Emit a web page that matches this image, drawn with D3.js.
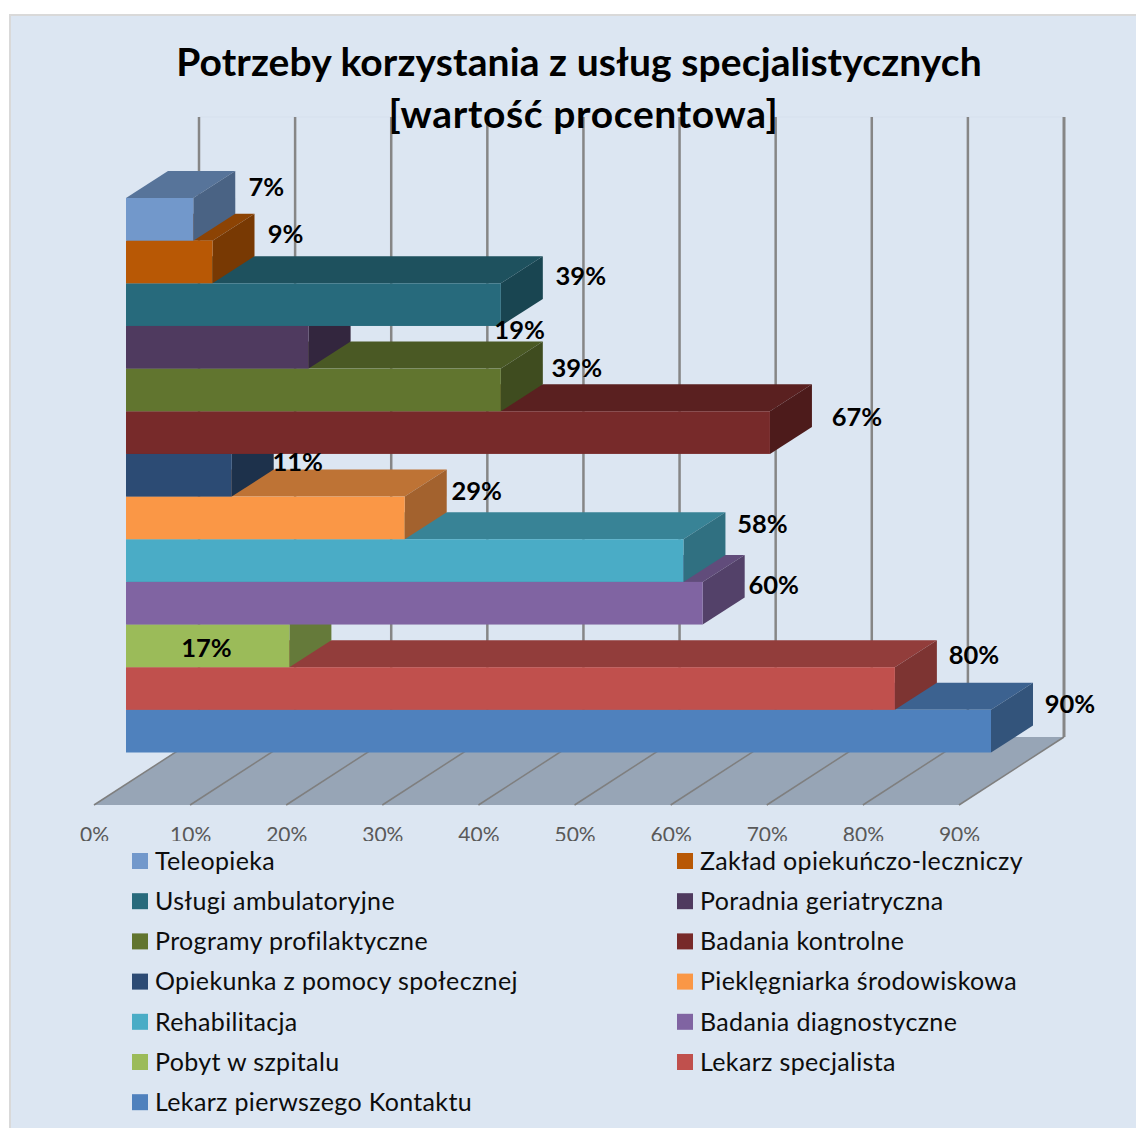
<!DOCTYPE html>
<html>
<head>
<meta charset="utf-8">
<script src="https://cdn.jsdelivr.net/npm/d3@7"></script>
<style>
html, body { margin: 0; padding: 0; background: #fff; overflow: hidden; }
svg { display: block; font-family: Lato, "Open Sans", sans-serif; }
</style>
</head>
<body>
<script>
// Data, top bar first
var categories = ['Teleopieka', 'Zakład opiekuńczo-leczniczy', 'Usługi ambulatoryjne', 'Poradnia geriatryczna',
    'Programy profilaktyczne', 'Badania kontrolne', 'Opiekunka z pomocy społecznej', 'Pieklęgniarka środowiskowa',
    'Rehabilitacja', 'Badania diagnostyczne', 'Pobyt w szpitalu', 'Lekarz specjalista', 'Lekarz pierwszego Kontaktu'];
var values = [7, 9, 39, 19, 39, 67, 11, 29, 58, 60, 17, 80, 90];
var colors = ['#7298cb', '#b85805', '#276a7c', '#4f3a5f', '#61752f', '#772a2a', '#2c4b74',
    '#fa9746', '#4aacc6', '#8064a2', '#9bbb59', '#c0504d', '#4f81bd'];
var tickValues = [0, 10, 20, 30, 40, 50, 60, 70, 80, 90];
var titleLines = ['Potrzeby korzystania z usług specjalistycznych', '[wartość procentowa]'];

// Label nudges, the original chart has them hand placed
var labelDx = [73, 73, 80, 211, 76, 87, 66, 72, 79, 71, -83, 79, 79];
var labelDy = [-32, -28, -29, -17, -22, -16, -13, -27, -36, -18, 2, -33, -27];

var width = 1136;
var height = 1128;

// 3D offsets
var barDepthX = 42;
var barDepthY = -27;
var wallTop = 117;
var floorFront = 805;
var floorBack = 737;

// One x scale per depth plane
var xFloor = d3.scaleLinear().domain([0, 90]).range([94, 959]);
var xWall = d3.scaleLinear().domain([0, 90]).range([199, 1064]);
var xBar = d3.scaleLinear().domain([0, 90]).range([126, 991]);

var yBar = d3.scaleBand()
    .domain(categories)
    .range([198, 752.5]);

var svg = d3.select('body')
    .append('svg')
    .attr('width', width)
    .attr('height', height);

function shade(color, k) {
    var c = d3.rgb(color);
    return d3.rgb(c.r * k, c.g * k, c.b * k).formatHex();
}

function poly(points) {
    return points.map((p) => p.join(',')).join(' ');
}

// Background panel
svg.append('rect')
    .attr('x', 10)
    .attr('y', 15)
    .attr('width', width)
    .attr('height', height)
    .attr('fill', '#dce6f2')
    .attr('stroke', '#d9d9d9')
    .attr('stroke-width', 2);

// Clip for the tick labels, the legend cuts them off in the original
svg.append('clipPath')
    .attr('id', 'tickClip')
    .append('rect')
    .attr('x', 0)
    .attr('y', 800)
    .attr('width', width)
    .attr('height', 41);

// Back wall
svg.append('line')
    .attr('x1', xWall(0))
    .attr('x2', xWall(90))
    .attr('y1', wallTop)
    .attr('y2', wallTop)
    .attr('stroke', '#d6e0ed');

svg.selectAll('.wallLine')
    .data(tickValues)
    .enter()
    .append('line')
    .attr('class', 'wallLine')
    .attr('x1', (d) => xWall(d))
    .attr('x2', (d) => xWall(d))
    .attr('y1', wallTop)
    .attr('y2', floorBack)
    .attr('stroke', '#868686')
    .attr('stroke-width', (d) => d === 90 ? 3 : 2.5);

// Floor
svg.append('polygon')
    .attr('points', poly([[xFloor(0), floorFront], [xFloor(90), floorFront], [xWall(90), floorBack], [xWall(0), floorBack]]))
    .attr('fill', '#97a5b6');

svg.selectAll('.floorLine')
    .data(tickValues)
    .enter()
    .append('line')
    .attr('class', 'floorLine')
    .attr('x1', (d) => xFloor(d))
    .attr('x2', (d) => xWall(d))
    .attr('y1', floorFront)
    .attr('y2', floorBack)
    .attr('stroke', '#7f7f7f')
    .attr('stroke-width', 1.5);

// Bars, drawn bottom up so that upper bars cover the tops of the lower ones
var bars = svg.selectAll('.bar')
    .data(categories.map((c, i) => ({name: c, value: values[i], color: colors[i]})).reverse())
    .enter()
    .append('g')
    .attr('class', 'bar');

// top face
bars.append('polygon')
    .attr('points', (d) => {
        var x0 = xBar(0), x1 = xBar(d.value), y = yBar(d.name);
        return poly([[x0, y], [x1, y], [x1 + barDepthX, y + barDepthY], [x0 + barDepthX, y + barDepthY]]);
    })
    .attr('fill', (d) => shade(d.color, 0.76));

// side face
bars.append('polygon')
    .attr('points', (d) => {
        var x1 = xBar(d.value), y = yBar(d.name), b = yBar.bandwidth();
        return poly([[x1, y], [x1 + barDepthX, y + barDepthY], [x1 + barDepthX, y + barDepthY + b], [x1, y + b]]);
    })
    .attr('fill', (d) => shade(d.color, 0.65));

// front face
bars.append('rect')
    .attr('x', xBar(0))
    .attr('y', (d) => yBar(d.name))
    .attr('width', (d) => xBar(d.value) - xBar(0))
    .attr('height', yBar.bandwidth())
    .attr('fill', (d) => d.color);

// Value labels
svg.selectAll('.valueLabel')
    .data(values)
    .enter()
    .append('text')
    .attr('class', 'valueLabel')
    .attr('x', (d, i) => xBar(d) + labelDx[i])
    .attr('y', (d, i) => yBar(categories[i]) + yBar.bandwidth() / 2 + labelDy[i])
    .attr('dy', '0.35em')
    .attr('text-anchor', 'middle')
    .attr('font-size', 25.5)
    .attr('font-weight', 700)
    .attr('fill', '#000')
    .text((d) => d + '%');

// Title
svg.selectAll('.title')
    .data(titleLines)
    .enter()
    .append('text')
    .attr('class', 'title')
    .attr('x', (d, i) => i ? 583.5 : 579)
    .attr('y', (d, i) => 76 + i * 52)
    .attr('text-anchor', 'middle')
    .attr('font-size', 39)
    .attr('font-weight', 700)
    .attr('letter-spacing', (d, i) => i ? 0.65 : 0.1)
    .attr('fill', '#000')
    .text((d) => d);

// X axis under the floor
var xAxis = d3.axisBottom(xFloor)
    .tickValues(tickValues)
    .tickSize(0)
    .tickFormat((d) => d + '%');

var axisG = svg.append('g')
    .attr('clip-path', 'url(#tickClip)')
    .append('g')
    .attr('transform', `translate(0, ${floorFront})`)
    .call(xAxis);

axisG.select('.domain').remove();
axisG.selectAll('text')
    .attr('y', 37)
    .attr('dy', 0)
    .attr('font-family', 'Lato, "Open Sans", sans-serif')
    .attr('font-size', 21)
    .attr('fill', '#595959');

// Legend, two columns
var legend = svg.selectAll('.legendItem')
    .data(categories)
    .enter()
    .append('g')
    .attr('class', 'legendItem')
    .attr('transform', (d, i) => `translate(${i % 2 ? 677 : 132}, ${861 + Math.floor(i / 2) * 40.2})`);

legend.append('rect')
    .attr('x', 0)
    .attr('y', -8)
    .attr('width', 16)
    .attr('height', 16)
    .attr('fill', (d, i) => colors[i]);

legend.append('text')
    .attr('x', 23)
    .attr('y', 0)
    .attr('dy', '0.35em')
    .attr('font-size', 25)
    .attr('letter-spacing', 0.35)
    .attr('fill', '#0d0d0d')
    .text((d) => d);
</script>
</body>
</html>
